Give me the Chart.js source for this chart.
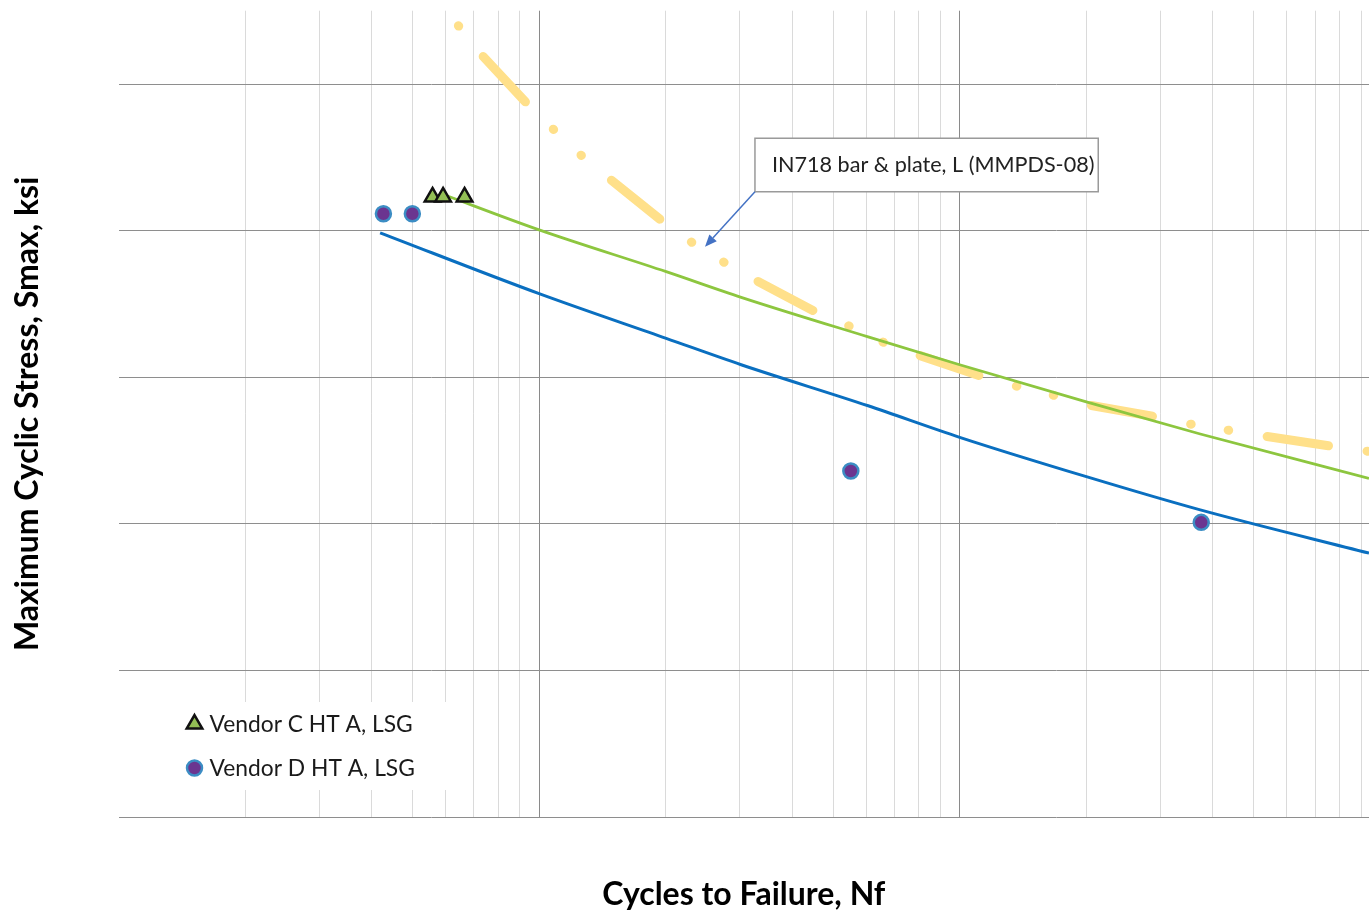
<!DOCTYPE html>
<html>
<head>
<meta charset="utf-8">
<title>S-N curve IN718</title>
<script src="https://cdn.jsdelivr.net/npm/chart.js@4.4.1/dist/chart.umd.min.js"></script>
<style>
  html, body { margin: 0; padding: 0; background: #fff; overflow: hidden; }
  #sn-chart { display: block; }
</style>
</head>
<body>
<canvas id="sn-chart" width="1369" height="915"></canvas>
<script>
"use strict";

// MMPDS-08 curve, IN718 bar & plate, L
const mmpdsCycles = [6429, 7306, 9348, 10814, 12568, 14752, 19473, 22936, 27363, 32929, 45131, 54500,
                     65610, 78400, 111900, 136000, 166200, 202400, 291700, 351900, 432000, 527800, 760300, 921000, 940000];
const mmpdsStress = [147.95, 143.96, 137.37, 133.82, 130.31, 127.0, 121.45, 118.49, 115.76, 113.15, 109.0, 107.0,
                     104.8, 103.17, 100.16, 98.8, 97.57, 96.21, 94.61, 93.62, 92.8, 91.98, 90.61, 89.97, 89.85];

// fitted lines
const vendorCFitCycles = [5816, 10000, 20050, 30230, 60590, 100000, 200950, 373200, 940000];
const vendorCFitStress = [125.1, 120.1, 114.4, 110.9, 105.5, 101.7, 96.6, 92.25, 86.2];
const vendorDFitCycles = [4188, 10000, 20050, 30230, 60590, 100000, 200950, 373200, 940000];
const vendorDFitStress = [119.7, 111.4, 105.3, 101.7, 96.1, 91.8, 86.4, 81.9, 76.0];

// test points
const vendorCCycles = [5580, 5911, 6649];
const vendorCStress = [124.6, 124.6, 124.6];
const vendorDCycles = [4264, 4996, 55100, 375200];
const vendorDStress = [122.3, 122.3, 87.2, 80.2];

// axes
const xDecades = [1e3, 1e4, 1e5];
const yTicks = [40, 60, 80, 100, 120, 140];

// callout (data coords)
const calloutText = 'IN718 bar & plate, L (MMPDS-08)';
const calloutX = [32600, 213500];
const calloutY = [125.3, 132.6];
const calloutTip = [24800, 117.8];

const xTickValues = [];
xDecades.forEach(d => { for (let m = 1; m <= 9; m++) xTickValues.push(m * d); });

function pairs(xs, ys) {
    return xs.map((x, i) => ({x: x, y: ys[i]}));
}

function isDecade(v) {
    const l = Math.log10(v);
    return Math.abs(l - Math.round(l)) < 1e-9;
}

const FONT = 'Lato';

const overlay = {
    id: 'overlay',
    afterDatasetsDraw(chart) {
        const {ctx, chartArea} = chart;
        const xs = chart.scales.x, ys = chart.scales.y;
        ctx.save();

        // callout box + arrow
        const bx1 = xs.getPixelForValue(calloutX[0]);
        const bx2 = xs.getPixelForValue(calloutX[1]);
        const by1 = ys.getPixelForValue(calloutY[1]);
        const by2 = ys.getPixelForValue(calloutY[0]);
        ctx.fillStyle = '#fff';
        ctx.fillRect(bx1, by1, bx2 - bx1, by2 - by1);
        ctx.strokeStyle = '#9a9a9a';
        ctx.lineWidth = 1.5;
        ctx.strokeRect(bx1, by1, bx2 - bx1, by2 - by1);
        ctx.fillStyle = '#222';
        ctx.font = '21.6px ' + FONT;
        ctx.textBaseline = 'middle';
        ctx.textAlign = 'left';
        ctx.fillText(calloutText, bx1 + 17, (by1 + by2) / 2);

        const tx = xs.getPixelForValue(calloutTip[0]);
        const ty = ys.getPixelForValue(calloutTip[1]);
        const ang = Math.atan2(ty - by2, tx - bx1);
        const headLen = 12, headW = 5;
        const hx = tx - Math.cos(ang) * headLen, hy = ty - Math.sin(ang) * headLen;
        ctx.strokeStyle = '#4472C4';
        ctx.fillStyle = '#4472C4';
        ctx.lineWidth = 1.5;
        ctx.beginPath();
        ctx.moveTo(bx1, by2);
        ctx.lineTo(hx, hy);
        ctx.stroke();
        ctx.beginPath();
        ctx.moveTo(tx, ty);
        ctx.lineTo(hx + Math.sin(ang) * headW, hy - Math.cos(ang) * headW);
        ctx.lineTo(hx - Math.sin(ang) * headW, hy + Math.cos(ang) * headW);
        ctx.closePath();
        ctx.fill();

        // legend inside the plot
        const lx = chartArea.left + 58;
        const ly = chartArea.bottom - 115;
        ctx.fillStyle = '#fff';
        ctx.fillRect(lx, ly, 285, 88);
        const items = chart.data.datasets.filter(d => d.inLegend);
        items.forEach((d, i) => {
            const cy = ly + 22 + i * 44;
            const mx = lx + 18;
            ctx.fillStyle = d.backgroundColor;
            ctx.strokeStyle = d.borderColor;
            ctx.lineWidth = d.borderWidth;
            Chart.helpers.drawPoint(ctx, {pointStyle: d.pointStyle, radius: d.pointRadius, rotation: 0, borderWidth: d.borderWidth}, mx, cy);
            ctx.fillStyle = '#1a1a1a';
            ctx.font = '22.8px ' + FONT;
            ctx.textBaseline = 'middle';
            ctx.fillText(d.label, mx + 15, cy + 1);
        });
        ctx.restore();
    }
};

const ctx = document.getElementById('sn-chart').getContext('2d');

new Chart(ctx, {
    type: 'scatter',
    data: {
        datasets: [
            {
                label: 'Vendor C HT A, LSG',
                inLegend: true,
                data: pairs(vendorCCycles, vendorCStress),
                pointStyle: 'triangle',
                pointRadius: 9,
                backgroundColor: '#93BF55',
                borderColor: '#111',
                borderWidth: 2.5,
                order: 1
            },
            {
                label: 'Vendor D HT A, LSG',
                inLegend: true,
                data: pairs(vendorDCycles, vendorDStress),
                pointStyle: 'circle',
                pointRadius: 7.5,
                backgroundColor: '#6B3590',
                borderColor: '#3C8DC4',
                borderWidth: 2.5,
                order: 2
            },
            {
                label: 'Vendor C fit',
                data: pairs(vendorCFitCycles, vendorCFitStress),
                showLine: true,
                pointRadius: 0,
                borderColor: '#8DC63F',
                borderWidth: 2.8,
                cubicInterpolationMode: 'monotone',
                clip: 0,
                order: 3
            },
            {
                label: 'Vendor D fit',
                data: pairs(vendorDFitCycles, vendorDFitStress),
                showLine: true,
                pointRadius: 0,
                borderColor: '#0A6FC0',
                borderWidth: 3,
                cubicInterpolationMode: 'monotone',
                clip: 0,
                order: 4
            },
            {
                label: calloutText,
                data: pairs(mmpdsCycles, mmpdsStress),
                showLine: true,
                pointRadius: 0,
                borderColor: '#FFE08A',
                borderWidth: 9,
                borderDash: [62, 39, 0.5, 37.5, 0.5, 39],
                borderDashOffset: 139,
                borderCapStyle: 'round',
                borderJoinStyle: 'round',
                clip: 0,
                order: 5
            }
        ]
    },
    options: {
        responsive: false,
        animation: false,
        layout: { autoPadding: false, padding: { left: 0, right: 0, top: 10.7, bottom: 0 } },
        plugins: {
            legend: { display: false },
            tooltip: { enabled: false }
        },
        scales: {
            x: {
                type: 'logarithmic',
                min: 1000,
                max: 940000,
                border: { display: false },
                ticks: { display: false },
                afterBuildTicks: s => { s.ticks = xTickValues.map(v => ({value: v})); },
                grid: {
                    drawTicks: false,
                    lineWidth: 1,
                    color: c => {
                        const v = c.tick && c.tick.value;
                        if (!v || v === 1000) return 'rgba(0,0,0,0)';
                        return isDecade(v) ? '#8a8a8a' : '#dadada';
                    }
                },
                title: {
                    display: true,
                    text: 'Cycles to Failure, Nf',
                    color: '#000',
                    font: { family: FONT, size: 32, weight: 'bold' },
                    padding: { top: 58.8, bottom: 0.8 }
                }
            },
            y: {
                min: 40,
                max: 150,
                border: { display: false },
                ticks: { display: false },
                afterBuildTicks: s => { s.ticks = yTicks.map(v => ({value: v})); },
                grid: { drawTicks: false, color: '#8e8e8e', lineWidth: 1 },
                title: {
                    display: true,
                    text: 'Maximum Cyclic Stress, Smax, ksi',
                    color: '#000',
                    font: { family: FONT, size: 32, weight: 'bold' },
                    padding: { top: 8.8, bottom: 71.3 }
                }
            }
        }
    },
    plugins: [overlay]
});
</script>
</body>
</html>
